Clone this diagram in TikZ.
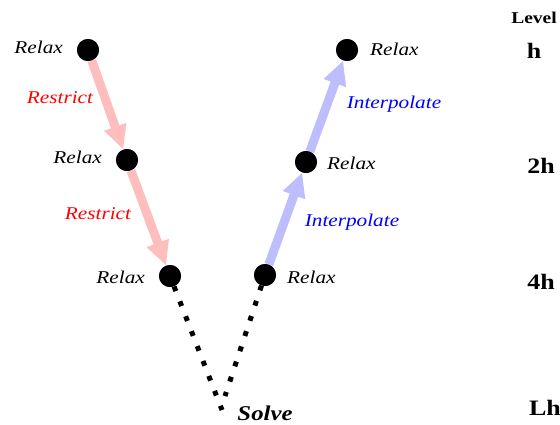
\documentclass[tikz,border=0pt]{standalone}
\usepackage{fontspec}
\setmainfont{Liberation Serif}[FakeStretch=1.18]
\usetikzlibrary{arrows.meta}
\definecolor{restrictfill}{RGB}{255,190,190}
\definecolor{interpfill}{RGB}{190,190,255}
\tikzset{
  gridpt/.style={circle,fill=black,minimum size=22pt,inner sep=0pt},
  steplabel/.style={font=\fontsize{18}{21}\selectfont\itshape,inner sep=0pt},
  restrictarrow/.style={draw=restrictfill,line width=9pt,
    -{Triangle[width=22pt,length=24pt,fill=restrictfill]}},
  interparrow/.style={draw=interpfill,line width=9pt,
    -{Triangle[width=22pt,length=24pt,fill=interpfill]}},
  coarsepath/.style={line width=5pt,dash pattern=on 5pt off 11pt},
  levellabel/.style={font=\fontsize{22}{25}\selectfont\bfseries,inner sep=0pt},
}
\begin{document}
\begin{tikzpicture}[x=1pt,y=-1pt]
\useasboundingbox (0,0) rectangle (560,424);

% grid levels: left (restriction) and right (interpolation) legs
\node[gridpt] (l1) at (88,50) {};
\node[gridpt] (l2) at (127,160) {};
\node[gridpt] (l3) at (170,276) {};
\node[gridpt] (r3) at (265,275) {};
\node[gridpt] (r2) at (306,162) {};
\node[gridpt] (r1) at (347,50) {};
\coordinate (vl) at (222,410);
\coordinate (vr) at (225,396);

% transfers between levels
\draw[restrictarrow] (l1) -- (l2);
\draw[restrictarrow] (l2) -- (l3);
\draw[interparrow] (r3) -- (r2);
\draw[interparrow] (r2) -- (r1);
\draw[coarsepath] (l3) -- (vl);
\draw[coarsepath] (r3) -- (vr);

% redraw points above the arrows
\foreach \q in {{88,50},{127,160},{170,276},{265,275},{306,162},{347,50}}
  \node[gridpt] at (\q) {};

% smoother labels
\node[steplabel,anchor=east] (tl1) at (63,47) {Relax};
\node[steplabel,anchor=east] (tl2) at (102,157) {Relax};
\node[steplabel,anchor=east] (tl3) at (145,277) {Relax};
\node[steplabel,anchor=west] (tr3) at (287,277) {Relax};
\node[steplabel,anchor=west] (tr2) at (327,163) {Relax};
\node[steplabel,anchor=west] (tr1) at (370,49) {Relax};

% transfer labels
\node[steplabel,text=red] (rs1) at (60,98) {Restrict};
\node[steplabel,text=red] (rs2) at (98,214) {Restrict};
\node[steplabel,text=blue] (ip1) at (394,104) {Interpolate};
\node[steplabel,text=blue] (ip2) at (352,222) {Interpolate};

% coarsest level
\node[font=\fontsize{21}{24}\selectfont\bfseries\itshape,inner sep=0pt] (solve) at (265,413) {Solve};

% mesh sizes
\node[font=\fontsize{16.5}{19}\selectfont\bfseries,inner sep=0pt] (lev) at (534,18) {Level};
\node[levellabel] (h1) at (534,51) {h};
\node[levellabel] (h2) at (541,166) {2h};
\node[levellabel] (h4) at (541,282) {4h};
\node[levellabel] (hL) at (545,408) {Lh};
\end{tikzpicture}
\end{document}
